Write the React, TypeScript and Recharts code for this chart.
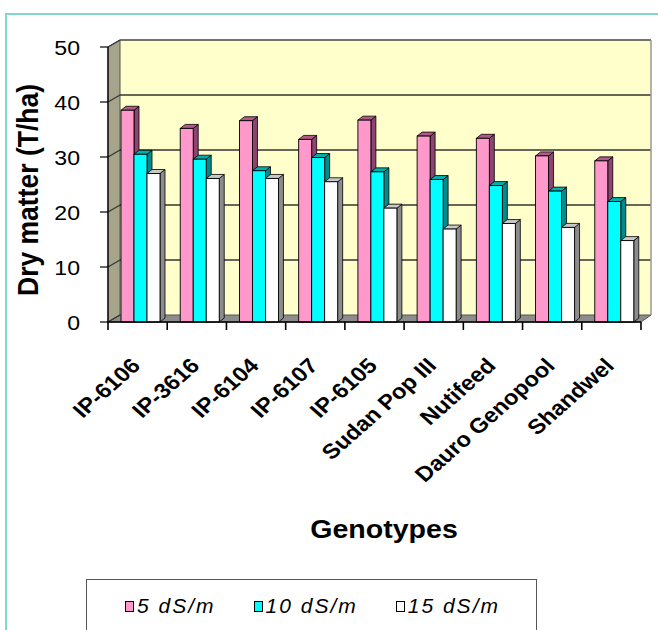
import React from 'react';
import { BarChart, Bar, XAxis, YAxis, ReferenceArea, Legend, Customized } from 'recharts';

const genotypes = ['IP-6106', 'IP-3616', 'IP-6104', 'IP-6107', 'IP-6105', 'Sudan Pop III', 'Nutifeed', 'Dauro Genopool', 'Shandwel'];
const ds5 = [38.5, 35.2, 36.6, 33.2, 36.7, 33.8, 33.4, 30.2, 29.3];
const ds10 = [30.5, 29.6, 27.5, 29.9, 27.3, 25.9, 24.8, 23.8, 21.9];
const ds15 = [27.0, 26.1, 26.1, 25.5, 20.7, 16.9, 17.9, 17.2, 14.8];
const yTicks = [0, 10, 20, 30, 40, 50];
const seriesNames = ['5 dS/m', '10 dS/m', '15 dS/m'];

const data = genotypes.map((g, i) => ({ name: g, s5: ds5[i], s10: ds10[i], s15: ds15[i] }));

const FONT = '"Liberation Sans", Arial, Helvetica, sans-serif';
const FRONT = ['#FF99CC', '#00FFFF', '#FFFFFF'];
const SIDE = ['#8E4470', '#008C8C', '#8C8C8C'];
const TOP = ['#B3598A', '#00B0B0', '#C8C8C8'];

const make3D = (k: number) => (props: any) => {
  const { x, y, width, height } = props;
  if (width == null || height == null || isNaN(x) || isNaN(y)) return null;
  const sx = x + 3;
  const d = 5;
  const e = 4;
  return (
    <g>
      <polygon
        points={`${sx + width},${y} ${sx + width + d},${y - e} ${sx + width + d},${y + height - e} ${sx + width},${y + height}`}
        fill={SIDE[k]}
        stroke="#000"
        strokeWidth={0.8}
        strokeLinejoin="round"
      />
      <polygon
        points={`${sx},${y} ${sx + d},${y - e} ${sx + width + d},${y - e} ${sx + width},${y}`}
        fill={TOP[k]}
        stroke="#000"
        strokeWidth={0.8}
        strokeLinejoin="round"
      />
      <rect x={sx} y={y} width={width} height={height} fill={FRONT[k]} stroke="#000" strokeWidth={0.9} />
    </g>
  );
};

const Wall = (props: any) => {
  const { x, y, width: w, height: h } = props;
  if (x == null) return null;
  const dl = 12;
  const dr = 10;
  const dy = 7;
  const bx1 = x + dl;
  const bx2 = x + w + dr;
  const by1 = y - dy;
  const by2 = y + h - dy;
  const max = yTicks[yTicks.length - 1];
  return (
    <g>
      <rect x={bx1} y={by1} width={bx2 - bx1} height={by2 - by1} fill="#FFFFCC" />
      <polygon points={`${x},${y} ${bx1},${by1} ${bx1},${by2} ${x},${y + h}`} fill="#A6A48A" stroke="#555" strokeWidth={1} />
      <polygon points={`${x},${y + h} ${bx1},${by2} ${bx2},${by2} ${x + w},${y + h}`} fill="#8C8C8C" stroke="#555" strokeWidth={1} />
      {yTicks.map((t) => {
        const yy = y + h * (1 - t / max);
        return (
          <g key={t}>
            {t > 0 && t < max && (
              <line x1={bx1} y1={yy - dy} x2={bx2} y2={yy - dy} stroke="#333" strokeWidth={1.3} />
            )}
            <line x1={x} y1={yy} x2={bx1} y2={yy - dy} stroke="#333" strokeWidth={1.2} />
          </g>
        );
      })}
      <line x1={bx1} y1={by1} x2={bx2} y2={by1} stroke="#444" strokeWidth={1.5} />
      <line x1={bx2} y1={by1} x2={bx2} y2={by2} stroke="#999" strokeWidth={1.5} />
    </g>
  );
};

const CatTick = (props: any) => {
  const { x, y, payload, index, width } = props;
  const n = genotypes.length;
  const half = typeof width === 'number' && width > 0 ? width / n / 2 : 29.6;
  return (
    <g>
      <line x1={x - half} y1={y} x2={x - half} y2={y + 8} stroke="#000" strokeWidth={1.6} />
      {index === n - 1 && <line x1={x + half} y1={y} x2={x + half} y2={y + 8} stroke="#000" strokeWidth={1.6} />}
      <text
        transform={`translate(${x + 4},${y + 45}) scale(1.13,1) rotate(-45)`}
        textAnchor="end"
        fontSize={21}
        fontWeight="bold"
        fontFamily={FONT}
        fill="#000"
      >
        {payload.value}
      </text>
    </g>
  );
};

const YTick = (props: any) => {
  const { x, y, payload } = props;
  return (
    <text
      transform={`translate(${x},${y}) scale(1.1,1)`}
      textAnchor="end"
      dy="0.36em"
      fontSize={21}
      fontFamily={FONT}
      fill="#000"
    >
      {payload.value}
    </text>
  );
};

const Titles = () => (
  <g>
    <text
      transform="translate(38,190) scale(1.12,1) rotate(-90)"
      textAnchor="middle"
      fontSize={26.5}
      fontWeight="bold"
      fontFamily={FONT}
      fill="#000"
    >
      Dry matter (T/ha)
    </text>
    <text
      transform="translate(384,538) scale(1.12,1)"
      textAnchor="middle"
      fontSize={25.5}
      fontWeight="bold"
      fontFamily={FONT}
      fill="#000"
    >
      Genotypes
    </text>
  </g>
);

const LegendBox = (props: any) => {
  const payload = [...(props.payload || [])].sort(
    (a: any, b: any) => seriesNames.indexOf(a.value) - seriesNames.indexOf(b.value)
  );
  return (
    <div
      style={{
        width: 451,
        height: 60,
        border: '1.5px solid #555',
        boxSizing: 'border-box',
        paddingLeft: 38,
        paddingTop: 14,
        display: 'flex',
        alignItems: 'flex-start',
        fontFamily: FONT,
        fontStyle: 'italic',
        fontSize: 21,
        letterSpacing: '2px',
        color: '#000',
        lineHeight: '24px',
        background: '#fff',
      }}
    >
      {payload.map((entry: any, i: number) => (
        <span key={i} style={{ display: 'inline-flex', alignItems: 'center', marginRight: 38, whiteSpace: 'nowrap' }}>
          <span
            style={{
              display: 'inline-block',
              width: 7,
              height: 9,
              border: '1.6px solid #000',
              background: entry.color,
              marginRight: 3,
            }}
          />
          <span>{entry.value}</span>
        </span>
      ))}
    </div>
  );
};

export default function App() {
  return (
    <div style={{ position: 'absolute', left: 0, top: 0, width: 658, height: 630, overflow: 'hidden', background: '#fff' }}>
      <div
        style={{
          position: 'absolute',
          left: 5,
          top: 13,
          width: 800,
          height: 800,
          borderLeft: '2px solid #7FD8CC',
          borderTop: '2px solid #7FD8CC',
        }}
      />
      <BarChart
        width={658}
        height={630}
        data={data}
        margin={{ top: 47, right: 17, bottom: 278, left: 0 }}
        barGap={0}
        barSize={13}
      >
        <ReferenceArea y1={0} y2={50} shape={Wall} zIndex={-50} ifOverflow="visible" />
        <XAxis
          dataKey="name"
          height={30}
          interval={0}
          tickSize={0}
          tickMargin={0}
          tickLine={false}
          axisLine={{ stroke: '#000', strokeWidth: 1.3 }}
          tick={<CatTick />}
        />
        <YAxis
          width={108}
          domain={[0, 50]}
          ticks={yTicks}
          interval={0}
          tickSize={8}
          tickMargin={20}
          tickLine={{ stroke: '#000', strokeWidth: 1.2 }}
          axisLine={{ stroke: '#000', strokeWidth: 1.3 }}
          tick={<YTick />}
        />
        <Bar dataKey="s5" name={seriesNames[0]} fill={FRONT[0]} shape={make3D(0)} isAnimationActive={false} />
        <Bar dataKey="s10" name={seriesNames[1]} fill={FRONT[1]} shape={make3D(1)} isAnimationActive={false} />
        <Bar dataKey="s15" name={seriesNames[2]} fill={FRONT[2]} shape={make3D(2)} isAnimationActive={false} />
        <Legend
          verticalAlign="middle"
          align="center"
          layout="horizontal"
          content={<LegendBox />}
          wrapperStyle={{ position: 'absolute', left: 86, top: 579, width: 451, height: 60, right: 'auto', bottom: 'auto' }}
        />
        <Customized component={Titles} />
      </BarChart>
    </div>
  );
}
